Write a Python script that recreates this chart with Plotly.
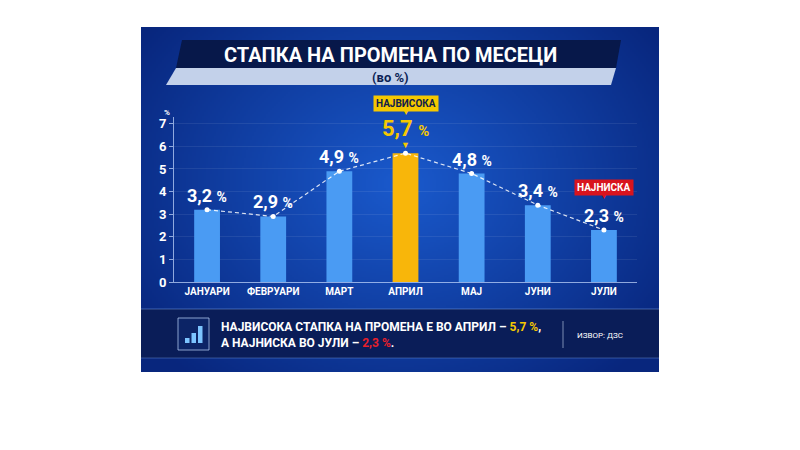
import base64
import struct
import zlib

import numpy as np
import plotly.graph_objects as go

months = ["ЈАНУАРИ", "ФЕВРУАРИ", "МАРТ", "АПРИЛ", "МАЈ", "ЈУНИ", "ЈУЛИ"]
rates = [3.2, 2.9, 4.9, 5.7, 4.8, 3.4, 2.3]
rate_labels = ["3,2", "2,9", "4,9", "5,7", "4,8", "3,4", "2,3"]
y_ticks = [0, 1, 2, 3, 4, 5, 6, 7]

title = "СТАПКА НА ПРОМЕНА ПО МЕСЕЦИ"
subtitle = "(во %)"
note_line1 = "НАЈВИСОКА СТАПКА НА ПРОМЕНА Е ВО АПРИЛ – "
note_line2 = "А НАЈНИСКА ВО ЈУЛИ – "
source = "ИЗВОР: ДЗС"

FONT = "Roboto"
BLUE = "#4a9bf3"
GOLD = "#f8b60a"
YELLOW = "#f5c800"
RED = "#d8141e"

# page offset of the figure (body margin)
OFF = 8
# plot area in page pixels (x: 174..637, y: 282 bottom .. 117 top)
L, R, B, T = 174, 637, 282, 117


def fx(px):
    return (px - L) / (R - L)


def fy(py):
    return (B - py) / (B - T)


def png_uri(arr):
    h, w, _ = arr.shape
    raw = b"".join(b"\x00" + arr[i].tobytes() for i in range(h))

    def chunk(tag, data):
        c = struct.pack(">I", len(data)) + tag + data
        return c + struct.pack(">I", zlib.crc32(tag + data) & 0xFFFFFFFF)

    png = b"\x89PNG\r\n\x1a\n"
    png += chunk(b"IHDR", struct.pack(">IIBBBBB", w, h, 8, 2, 0, 0, 0))
    png += chunk(b"IDAT", zlib.compress(raw, 9))
    png += chunk(b"IEND", b"")
    return "data:image/png;base64," + base64.b64encode(png).decode()


# radial blue backdrop
W, H = 259, 173
yy, xx = np.mgrid[0:H, 0:W]
d = np.sqrt(((xx - W * 0.5) / (W * 0.62)) ** 2 + ((yy - H * 0.45) / (H * 0.75)) ** 2)
d = np.clip(d, 0, 1)[..., None]
inner = np.array([26, 90, 205])
outer = np.array([8, 38, 125])
bg = (inner * (1 - d) + outer * d).astype(np.uint8)

fig = go.Figure()

bar_colors = [GOLD if m == "АПРИЛ" else BLUE for m in months]
fig.add_trace(go.Bar(
    x=months, y=rates, width=0.39,
    marker=dict(color=bar_colors, line=dict(width=0)),
    hoverinfo="skip",
))
fig.add_trace(go.Scatter(
    x=months, y=rates, mode="lines+markers",
    line=dict(color="rgba(255,255,255,0.85)", width=1.2, dash="4px,3px"),
    marker=dict(color="white", size=5),
    hoverinfo="skip",
))

annotations = []
for m, v, lab in zip(months, rates, rate_labels):
    if m == "АПРИЛ":
        annotations.append(dict(
            x=m, y=v, yshift=10, showarrow=False, yanchor="bottom",
            text=f"<b>{lab}</b> <span style='font-size:15px'><b>%</b></span>",
            font=dict(family=FONT, size=22, color=YELLOW),
        ))
        annotations.append(dict(
            x=m, y=v, yshift=1, showarrow=False, yanchor="bottom",
            text="▼", font=dict(family=FONT, size=9, color=YELLOW),
        ))
    else:
        annotations.append(dict(
            x=m, y=v, yshift=2, showarrow=False, yanchor="bottom",
            text=f"<b>{lab}</b> <span style='font-size:14px'><b>%</b></span>",
            font=dict(family=FONT, size=18, color="white"),
        ))

# callout boxes
annotations.append(dict(
    x="АПРИЛ", y=rates[3], yshift=41, showarrow=False, yanchor="bottom",
    text="<b>НАЈВИСОКА</b>", bgcolor=YELLOW, borderpad=2,
    font=dict(family=FONT, size=10, color="#10204a"),
))
annotations.append(dict(
    x="АПРИЛ", y=rates[3], yshift=34, showarrow=False, yanchor="bottom",
    text="▼", font=dict(family=FONT, size=8, color=YELLOW),
))
annotations.append(dict(
    x="ЈУЛИ", y=rates[6], yshift=34, showarrow=False, yanchor="bottom",
    text="<b>НАЈНИСКА</b>", bgcolor=RED, borderpad=2,
    font=dict(family=FONT, size=10, color="white"),
))
annotations.append(dict(
    x="ЈУЛИ", y=rates[6], yshift=27, showarrow=False, yanchor="bottom",
    text="▼", font=dict(family=FONT, size=8, color=RED),
))


def paper_text(px, py, text, size, color, xanchor="center", align="center"):
    return dict(xref="paper", yref="paper", x=fx(px), y=fy(py), showarrow=False,
                xanchor=xanchor, yanchor="middle", align=align, text=text,
                font=dict(family=FONT, size=size, color=color))


# header texts
annotations.append(paper_text(390, 55, f"<b>{title}</b>", 20, "white"))
annotations.append(paper_text(390, 77, f"<b>{subtitle}</b>", 13, "#0b1f55"))
annotations.append(paper_text(167, 112, "<b>%</b>", 8, "white"))

# bottom note
annotations.append(paper_text(
    219, 335,
    (f"<b>{note_line1}<span style='color:{YELLOW}'>{rate_labels[3]} %</span>,<br>"
     f"{note_line2}<span style='color:#e8202a'>{rate_labels[6]} %</span>.</b>"),
    12, "white", xanchor="left", align="left",
))
annotations.append(paper_text(575, 335, source, 8, "white", xanchor="left"))

shapes = [
    # title banner
    dict(type="path", xref="paper", yref="paper", layer="below",
         path=f"M {fx(182)} {fy(40)} L {fx(621)} {fy(40)} L {fx(616)} {fy(68)} L {fx(176)} {fy(68)} Z",
         fillcolor="#07184a", line=dict(width=0)),
    dict(type="path", xref="paper", yref="paper", layer="below",
         path=f"M {fx(176)} {fy(68)} L {fx(616)} {fy(68)} L {fx(611)} {fy(85)} L {fx(166)} {fy(85)} Z",
         fillcolor="#c3d1ea", line=dict(width=0)),
    # bottom info panel
    dict(type="rect", xref="paper", yref="paper", layer="below",
         x0=fx(141), x1=fx(659), y0=fy(309), y1=fy(358),
         fillcolor="#0a1d58", line=dict(width=0)),
    dict(type="line", xref="paper", yref="paper", layer="below",
         x0=fx(141), x1=fx(659), y0=fy(309), y1=fy(309),
         line=dict(color="rgba(120,160,230,0.5)", width=1)),
    dict(type="line", xref="paper", yref="paper", layer="below",
         x0=fx(141), x1=fx(659), y0=fy(358), y1=fy(358),
         line=dict(color="rgba(120,160,230,0.4)", width=1)),
    dict(type="line", xref="paper", yref="paper", layer="below",
         x0=fx(563), x1=fx(563), y0=fy(321), y1=fy(348),
         line=dict(color="rgba(200,215,240,0.6)", width=1)),
    # icon frame
    dict(type="rect", xref="paper", yref="paper", layer="below",
         x0=fx(178), x1=fx(209), y0=fy(350), y1=fy(318),
         fillcolor="#0c2466", line=dict(color="rgba(170,195,235,0.8)", width=1)),
]
# icon bars
for bx, top in [(185, 338), (191.5, 333), (198, 326)]:
    shapes.append(dict(type="rect", xref="paper", yref="paper", layer="below",
                       x0=fx(bx), x1=fx(bx + 4.5), y0=fy(343), y1=fy(top),
                       fillcolor="#7cc4ff", line=dict(width=0)))

fig.update_layout(
    width=800, height=450,
    margin=dict(l=L - OFF, r=800 - R + OFF, t=T - OFF, b=450 - B + OFF),
    paper_bgcolor="white",
    plot_bgcolor="rgba(0,0,0,0)",
    showlegend=False,
    images=[dict(
        source=png_uri(bg), xref="paper", yref="paper",
        x=fx(141), y=fy(27), sizex=fx(659) - fx(141), sizey=fy(27) - fy(372),
        xanchor="left", yanchor="top", sizing="stretch", layer="below",
    )],
    shapes=shapes,
    annotations=annotations,
    xaxis=dict(
        type="category", range=[-0.5, 6.5], showgrid=False, fixedrange=True,
        showline=True, linecolor="rgba(200,220,255,0.7)", linewidth=1,
        ticks="", tickfont=dict(family=FONT, size=10, color="white", weight="bold"),
    ),
    yaxis=dict(
        range=[0, 7.3], tickvals=y_ticks, fixedrange=True,
        showgrid=True, gridcolor="rgba(255,255,255,0.08)", zeroline=False,
        showline=True, linecolor="rgba(200,220,255,0.7)", linewidth=1,
        ticks="outside", ticklen=4, tickcolor="rgba(200,220,255,0.7)",
        tickfont=dict(family=FONT, size=13, color="white", weight="bold"),
    ),
)

fig.write_html("out.html")
